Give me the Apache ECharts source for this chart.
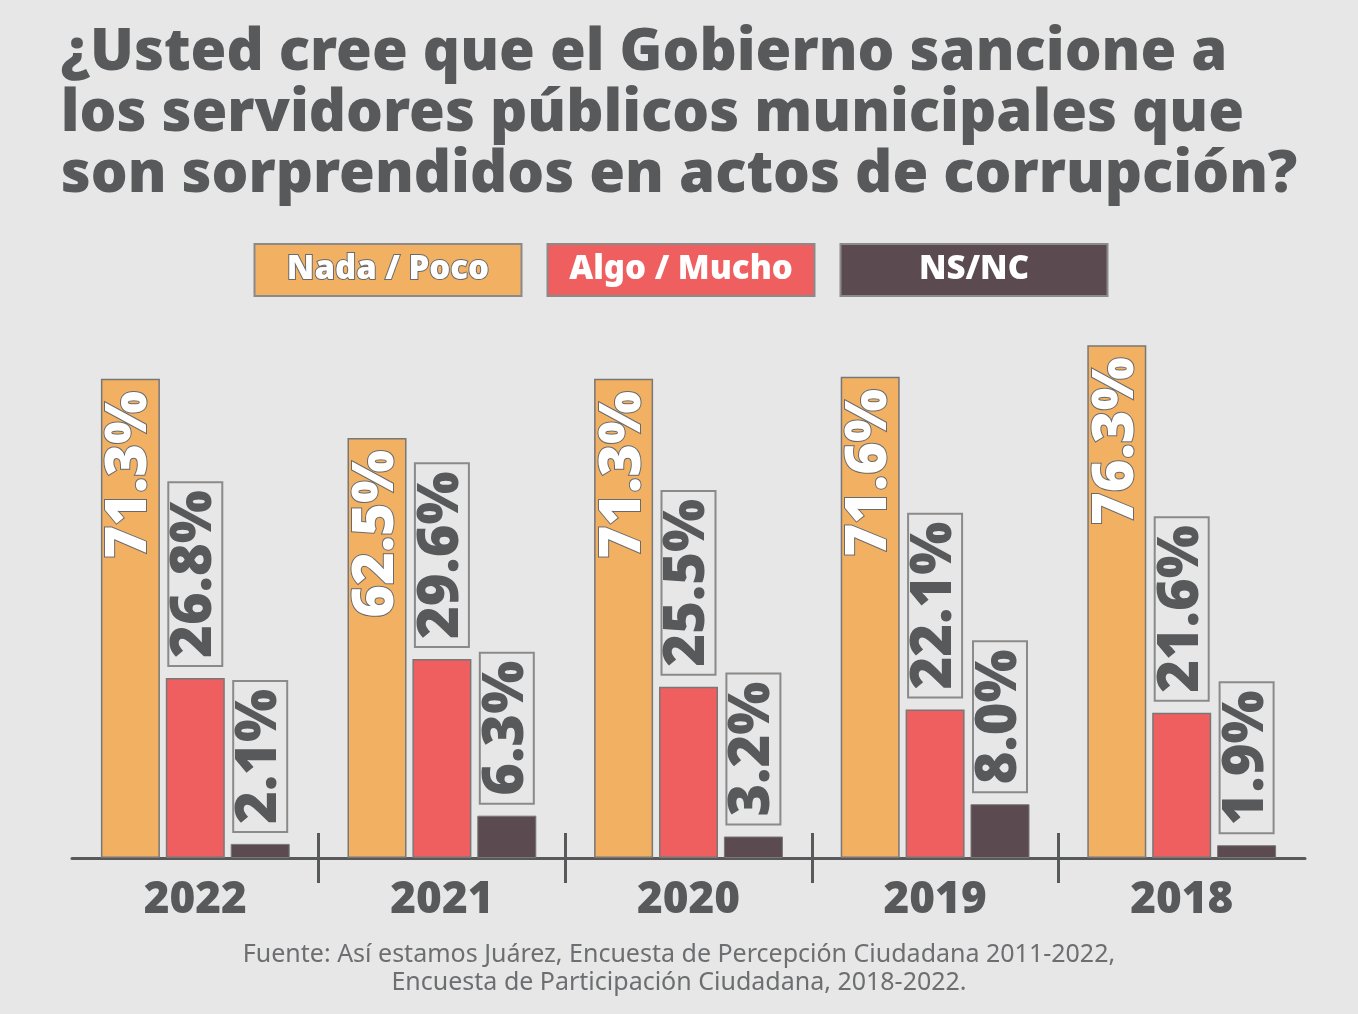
<!DOCTYPE html>
<html>
<head>
<meta charset="utf-8">
<script src="https://cdn.jsdelivr.net/npm/echarts@6/dist/echarts.min.js"></script>
<style>
html,body{margin:0;padding:0;background:#e7e7e7;}
#c{width:1358px;height:1014px;}
</style>
</head>
<body>
<div id="c"></div>
<script>
const categories = ['2022', '2021', '2020', '2019', '2018'];
const seriesNames = ['Nada / Poco', 'Algo / Mucho', 'NS/NC'];
const nadaPoco = [71.3, 62.5, 71.3, 71.6, 76.3];
const algoMucho = [26.8, 29.6, 25.5, 22.1, 21.6];
const nsnc = [2.1, 6.3, 3.2, 8.0, 1.9];
const titleText = '¿Usted cree que el Gobierno sancione a\nlos servidores públicos municipales que\nson sorprendidos en actos de corrupción?';
const sourceText = 'Fuente: Así estamos Juárez, Encuesta de Percepción Ciudadana 2011-2022,\nEncuesta de Participación Ciudadana, 2018-2022.';
const tickPositions = [1, 2, 3, 4];

const colors = ['#f1b062', '#ef5f60', '#5b4a50'];
const FONT = '"Noto Sans", sans-serif';
const chart = echarts.init(document.getElementById('c'));

const insideLabel = {
  show: true, position: 'insideTop', rotate: 90, align: 'right', verticalAlign: 'middle',
  distance: 12, fontFamily: FONT, fontWeight: 900, fontSize: 56, color: '#fff',
  textBorderColor: '#6a6a6a', textBorderWidth: 2,
  formatter: p => p.value.toFixed(1) + '%'
};
const boxLabel = {
  show: true, position: 'top', rotate: 90, align: 'left', verticalAlign: 'middle',
  distance: 12, fontFamily: FONT, fontWeight: 900, fontSize: 56, color: '#58595b',
  lineHeight: 46, padding: [5, 8, 3, 8], borderColor: '#8a8a8a', borderWidth: 2,
  formatter: p => p.value.toFixed(1) + '%'
};

const legendBase = {width: 265, height: 50, lineHeight: 50, align: 'center', borderColor: '#8a8a8a', borderWidth: 2, color: '#fff', fontSize: 33, fontWeight: 900, fontFamily: FONT};
const richLegend = {
  l0: Object.assign({}, legendBase, {backgroundColor: colors[0], textBorderColor: '#6a6a6a', textBorderWidth: 2}),
  l1: Object.assign({}, legendBase, {backgroundColor: colors[1]}),
  l2: Object.assign({}, legendBase, {backgroundColor: colors[2]})
};

chart.setOption({
  backgroundColor: '#e7e7e7',
  animation: false,
  title: [{
    text: titleText, left: 'center', top: 18, textAlign: 'left',
    textStyle: {fontFamily: FONT, fontWeight: 900, fontSize: 58, lineHeight: 61, color: '#58595b', align: 'center'}
  }, {
    text: sourceText, left: 'center', top: 936,
    textStyle: {fontFamily: FONT, fontWeight: 'normal', fontSize: 25, lineHeight: 28, color: '#6d6e70', align: 'center'}
  }],
  legend: {
    top: 238, left: 'center', itemWidth: 0, itemHeight: 0, itemGap: 20, icon: 'rect',
    data: seriesNames,
    formatter: name => '{l' + seriesNames.indexOf(name) + '|' + name + '}',
    textStyle: {rich: richLegend}
  },
  grid: {left: 72, right: 53, top: 186, bottom: 156},
  xAxis: [{
    type: 'category', data: categories, boundaryGap: true,
    axisLine: {lineStyle: {color: '#58595b', width: 3}},
    axisTick: {show: false},
    axisLabel: {fontFamily: FONT, fontWeight: 900, fontSize: 44, color: '#58595b', margin: 20}
  }, {
    type: 'value', min: 0, max: 5, position: 'bottom', offset: -25,
    axisLine: {show: false},
    splitLine: {show: false},
    axisLabel: {show: false},
    axisTick: {show: true, length: 50, customValues: tickPositions, lineStyle: {color: '#58595b', width: 3}}
  }],
  yAxis: {type: 'value', min: 0, max: 100, show: false},
  series: [{
    name: seriesNames[0], type: 'bar', data: nadaPoco, barWidth: 59, barGap: '10%',
    itemStyle: {color: colors[0], borderColor: '#777', borderWidth: 1.5},
    label: insideLabel
  }, {
    name: seriesNames[1], type: 'bar', data: algoMucho, barWidth: 59, barGap: '10%',
    itemStyle: {color: colors[1], borderColor: '#777', borderWidth: 1.5},
    label: boxLabel
  }, {
    name: seriesNames[2], type: 'bar', data: nsnc, barWidth: 59, barGap: '10%',
    itemStyle: {color: colors[2], borderColor: '#777', borderWidth: 1},
    label: boxLabel
  }]
});
</script>
</body>
</html>
